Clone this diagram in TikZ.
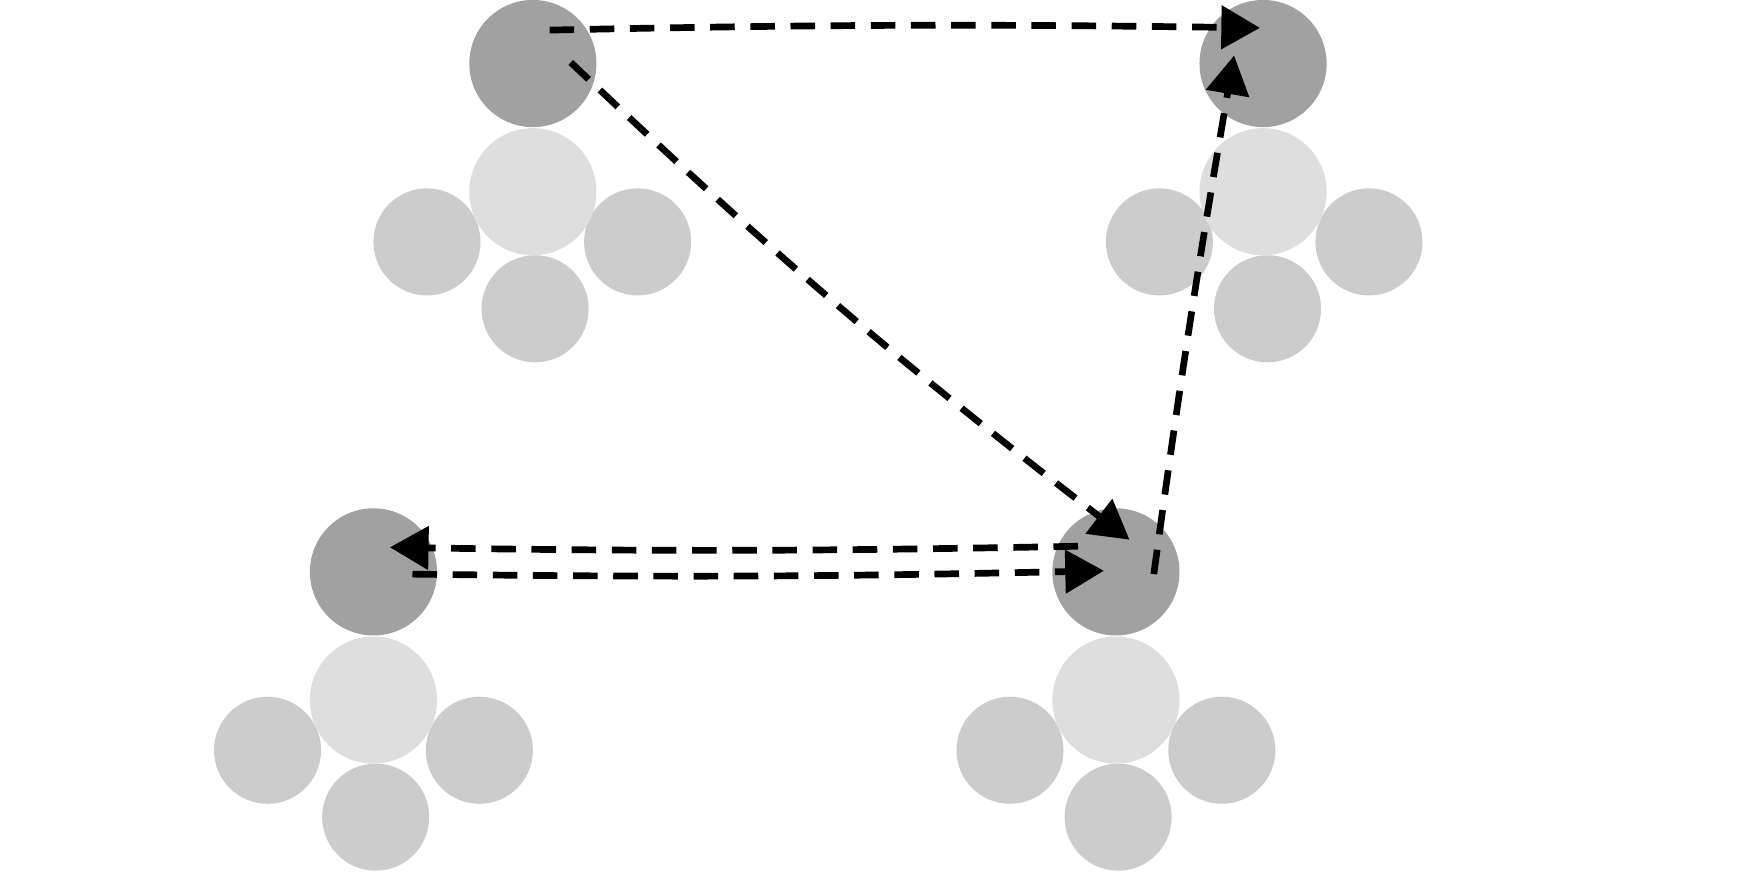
\documentclass[tikz,border=0pt]{standalone}
\usepackage{tikz}
\usetikzlibrary{arrows,positioning,calc}
\definecolor{chead}{rgb}{0.63,0.63,0.63}
\definecolor{cbody}{rgb}{0.87,0.87,0.87}
\definecolor{climb}{rgb}{0.80,0.80,0.80}
\tikzset{
  head/.style={circle,fill=chead,minimum size=1.14cm,inner sep=0pt},
  body/.style={circle,fill=cbody,minimum size=1.14cm,inner sep=0pt},
  limb/.style={circle,fill=climb,minimum size=0.96cm,inner sep=0pt},
  post/.style={-triangle 60,dashed,line width=0.6mm,dash pattern=on 2.2mm off 1.4mm}
}
\begin{document}
\begin{tikzpicture}[x=0.01cm,y=-0.01cm]
%
\useasboundingbox (0,0) rectangle (1568,782);
%
\node[limb] (la1) at (383,217) {};
\node[limb] (lb1) at (572,217) {};
\node[limb] (lc1) at (480,277) {};
\node[body] (b1) at (478,172) {};
\node[head] (h1) at (478,57) {};
\node[limb] (la2) at (1040,217) {};
\node[limb] (lb2) at (1228,217) {};
\node[limb] (lc2) at (1137,277) {};
\node[body] (b2) at (1133,172) {};
\node[head] (h2) at (1133,57) {};
\node[limb] (la3) at (240,673) {};
\node[limb] (lb3) at (430,673) {};
\node[limb] (lc3) at (337,733) {};
\node[body] (b3) at (335,628) {};
\node[head] (h3) at (335,513) {};
\node[limb] (la4) at (906,673) {};
\node[limb] (lb4) at (1096,673) {};
\node[limb] (lc4) at (1003,733) {};
\node[body] (b4) at (1001,628) {};
\node[head] (h4) at (1001,513) {};
%
\coordinate (h1a) at ($(h1)+(15,-30)$);
\coordinate (h1b) at ($(h1)+(34,-1)$);
\coordinate (h2a) at ($(h2)+(-3,-32)$);
\coordinate (h2b) at ($(h2)+(-26,-7)$);
\coordinate (h3a) at ($(h3)+(15,-22)$);
\coordinate (h3b) at ($(h3)+(35,2)$);
\coordinate (h4a) at ($(h4)+(-34,-23)$);
\coordinate (h4b) at ($(h4)+(-11,-1)$);
\coordinate (h4c) at ($(h4)+(12,-29)$);
\coordinate (h4d) at ($(h4)+(34,2)$);
%
\draw[post] (h1a) to[bend left=1] (h2a);
\draw[post] (h1b) to[bend right=3] (h4c);
\draw[post] (h4d) to[bend left=1] (h2b);
\draw[post] (h4a) to[bend left=1] (h3a);
\draw[post] (h3b) to[bend right=1] (h4b);
%
\end{tikzpicture}
\end{document}
